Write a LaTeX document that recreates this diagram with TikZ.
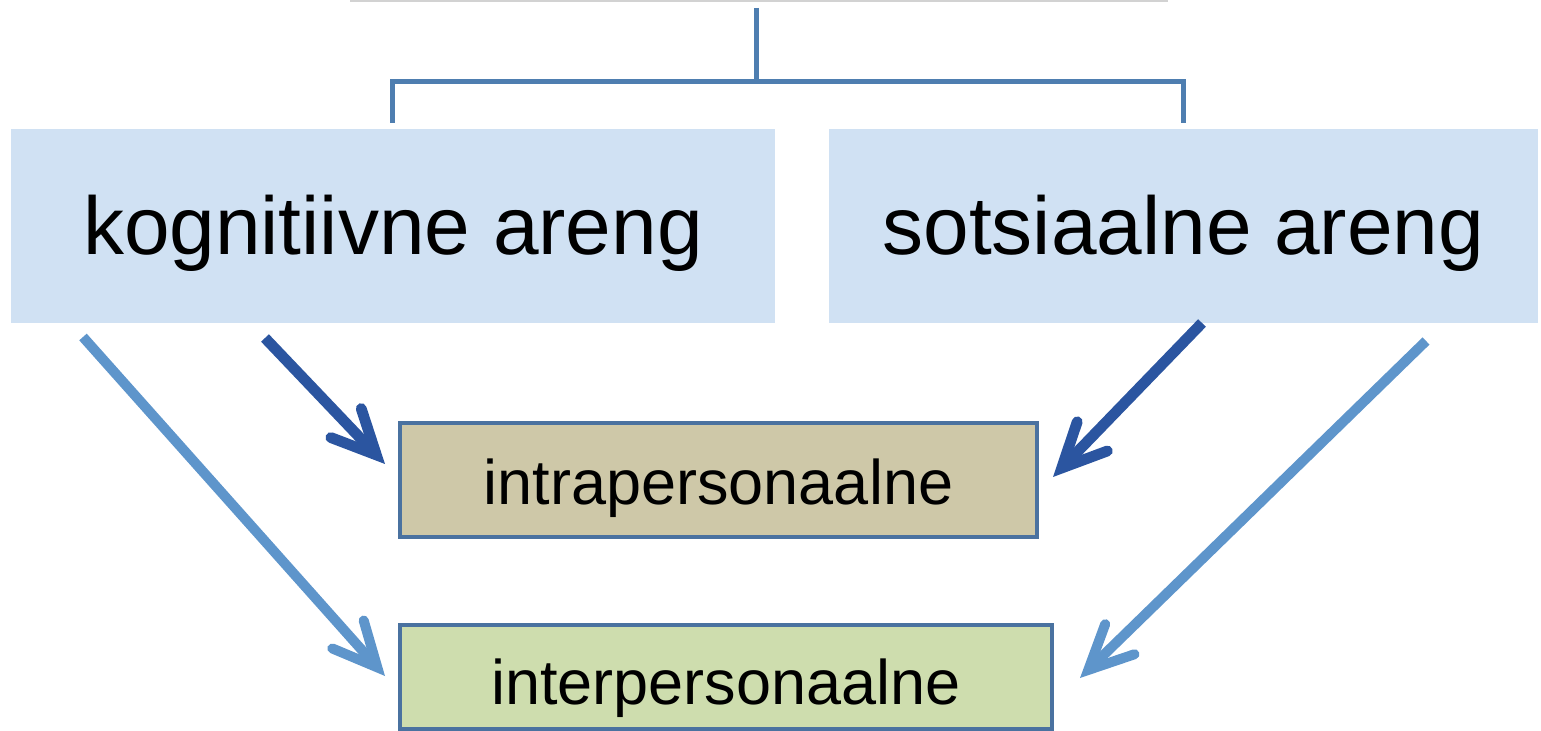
\documentclass[tikz,border=0pt]{standalone}
\usepackage{fontspec}
\setmainfont{Liberation Sans}
\usetikzlibrary{positioning,arrows.meta,calc}

\definecolor{areng}{HTML}{D0E1F3}
\definecolor{intrafill}{HTML}{CEC8A8}
\definecolor{interfill}{HTML}{CEDDAE}
\definecolor{frame}{HTML}{4A72A0}
\definecolor{treeline}{HTML}{4E7EB0}
\definecolor{darkarrow}{HTML}{2B55A0}
\definecolor{lightarrow}{HTML}{5E95CB}

\begin{document}
\begin{tikzpicture}[x=0.5pt,y=-0.5pt,
    areng/.style={fill=areng, inner sep=0pt, minimum height=97pt,
        text height=29pt, text depth=0pt, font=\fontsize{41}{49}\selectfont},
    level/.style={draw=frame, line width=2pt, inner sep=0pt, text depth=0pt,
        font=\fontsize{31.5}{38}\selectfont},
    tree/.style={draw=treeline, line width=2.5pt},
    tip/.style={-{Straight Barb[length=22pt,width=21pt,line cap=round,line join=miter]}},
    darkarr/.style={tip, draw=darkarrow, line width=5.4pt},
    lightarr/.style={tip, draw=lightarrow, line width=5pt}]
\useasboundingbox (0,0) rectangle (1541,731);

\node[draw=gray!35, line width=2pt, fill=white, minimum width=407pt, minimum height=40pt,
    anchor=south] (root) at (759,2) {};

\node[areng, minimum width=382pt] (kog) at (393,226) {kognitiivne areng};
\node[areng, minimum width=354.5pt, right=26.5pt of kog] (sots) {sotsiaalne areng};

\node[level, fill=intrafill, minimum width=318.5pt, minimum height=57pt, text height=25pt] (intra) at (718.5,480) {intrapersonaalne};
\node[level, fill=interfill, minimum width=326pt, minimum height=52pt, text height=27pt] (inter) at (726,677) {interpersonaalne};

\draw[tree] ($(root.south)+(-3,6)$) -- ++(0,74) coordinate (fork);
\draw[tree] ($(kog.north)+(-1,-6)$) |- (fork) -| ($(sots.north)+(0.5,-6)$);

\coordinate (kogdark) at (265,338);
\coordinate (kogline) at (83,337);
\coordinate (sotsdark) at (1202,323);
\coordinate (sotsline) at (1426,341);
\coordinate (intraL) at (385,464);
\coordinate (intraR) at (1053,477);
\coordinate (interL) at (385,676);
\coordinate (interR) at (1080,678);

\draw[darkarr] (kogdark) -- (intraL);
\draw[darkarr] (sotsdark) -- (intraR);
\draw[lightarr] (kogline) -- (interL);
\draw[lightarr] (sotsline) -- (interR);
\end{tikzpicture}
\end{document}
